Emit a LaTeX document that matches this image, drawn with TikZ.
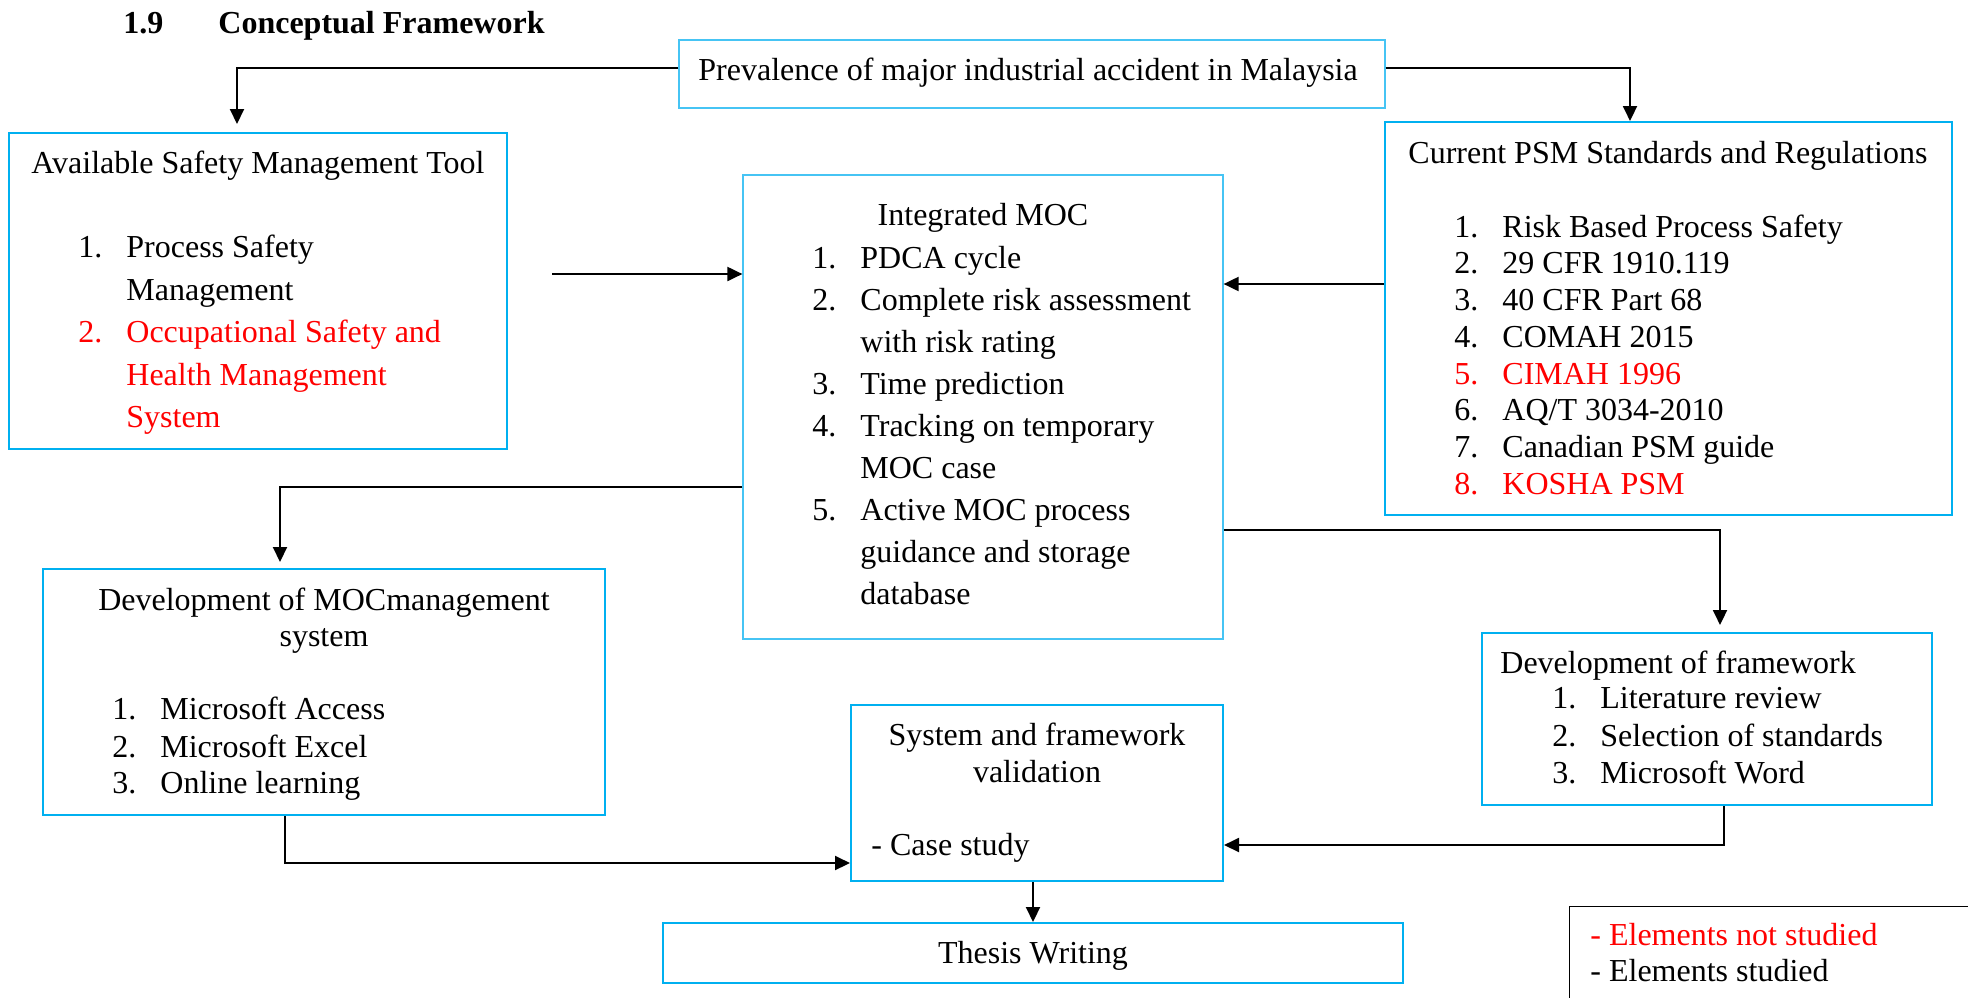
\documentclass[tikz,border=0pt]{standalone}
\usepackage{fontspec}
\setmainfont{Liberation Serif}
\usetikzlibrary{arrows.meta}
\definecolor{boxblue}{RGB}{0,176,240}
\definecolor{lightblue}{RGB}{70,196,244}
\definecolor{nsred}{RGB}{255,0,0}
\newcommand{\num}[1]{\makebox[24pt][l]{#1}}
\begin{document}
\begin{tikzpicture}[x=0.5pt,y=-0.5pt,
  font=\fontsize{16}{20}\selectfont,
  bbox/.style={draw=boxblue,line width=1pt,inner sep=0pt,rectangle},
  tbox/.style={draw=lightblue,line width=0.6pt,inner sep=0pt,rectangle},
  txt/.style={anchor=base west,inner sep=0pt},
  ctxt/.style={anchor=base,inner sep=0pt},
  red/.style={text=nsred},
  arr/.style={line width=1pt,-{Triangle[length=7.5pt,width=7pt]}}]
\useasboundingbox (0,0) rectangle (1968,997);
\clip (0,0) rectangle (1968,997);

% heading
\node[txt,font=\fontsize{16}{20}\selectfont\bfseries] (secnum) at (123,33) {1.9};
\node[txt,font=\fontsize{16}{20}\selectfont\bfseries] (sectitle) at (218,33) {Conceptual Framework};

% boxes
\node[tbox,minimum width=353pt,minimum height=34pt] (prev) at (1032,74) {};
\node[bbox,minimum width=249pt,minimum height=158pt] (avail) at (258,291) {};
\node[bbox,minimum width=283.5pt,minimum height=196.5pt] (psm) at (1668.5,318.5) {};
\node[tbox,minimum width=240pt,minimum height=232pt] (moc) at (983,407) {};
\node[bbox,minimum width=281pt,minimum height=123pt] (devmoc) at (324,692) {};
\node[bbox,minimum width=225pt,minimum height=86pt] (devfw) at (1707,719) {};
\node[bbox,minimum width=186pt,minimum height=88pt] (valid) at (1037,793) {};
\node[bbox,minimum width=370pt,minimum height=30pt] (thesis) at (1033,953) {};
\node[draw=black,line width=0.6pt,inner sep=0pt,anchor=north west,
      minimum width=230pt,minimum height=70pt] (legend) at (1569,906) {};

% prevalence
\node[txt] (prevtxt) at (698,80) {Prevalence of major industrial accident in Malaysia};

% available safety management tool
\node[ctxt] (availttl) at (258,173) {Available Safety Management Tool};
\node[txt] (avail1) at (78,257) {\num{1.}Process Safety};
\node[txt] (avail1b) at (126,300) {Management};
\node[txt,red] (avail2) at (78,342) {\num{2.}Occupational Safety and};
\node[txt,red] (avail2b) at (126,385) {Health Management};
\node[txt,red] (avail2c) at (126,427) {System};

% integrated MOC
\node[ctxt] (mocttl) at (983,225) {Integrated MOC};
\node[txt] (moc1) at (812,268) {\num{1.}PDCA cycle};
\node[txt] (moc2) at (812,310) {\num{2.}Complete risk assessment};
\node[txt] (moc2b) at (860,352) {with risk rating};
\node[txt] (moc3) at (812,394) {\num{3.}Time prediction};
\node[txt] (moc4) at (812,436) {\num{4.}Tracking on temporary};
\node[txt] (moc4b) at (860,478) {MOC case};
\node[txt] (moc5) at (812,520) {\num{5.}Active MOC process};
\node[txt] (moc5b) at (860,562) {guidance and storage};
\node[txt] (moc5c) at (860,604) {database};

% PSM standards
\node[ctxt] (psmttl) at (1668,163) {Current PSM Standards and Regulations};
\node[txt] (psm1) at (1454,237) {\num{1.}Risk Based Process Safety};
\node[txt] (psm2) at (1454,273) {\num{2.}29 CFR 1910.119};
\node[txt] (psm3) at (1454,310) {\num{3.}40 CFR Part 68};
\node[txt] (psm4) at (1454,347) {\num{4.}COMAH 2015};
\node[txt,red] (psm5) at (1454,384) {\num{5.}CIMAH 1996};
\node[txt] (psm6) at (1454,420) {\num{6.}AQ/T 3034-2010};
\node[txt] (psm7) at (1454,457) {\num{7.}Canadian PSM guide};
\node[txt,red] (psm8) at (1454,494) {\num{8.}KOSHA PSM};

% MOC management system
\node[ctxt] (devmocttl) at (324,610) {Development of MOCmanagement};
\node[ctxt] (devmocttlb) at (324,646) {system};
\node[txt] (devmoc1) at (112,719) {\num{1.}Microsoft Access};
\node[txt] (devmoc2) at (112,757) {\num{2.}Microsoft Excel};
\node[txt] (devmoc3) at (112,793) {\num{3.}Online learning};

% framework development
\node[txt] (devfwttl) at (1500,673) {Development of framework};
\node[txt] (devfw1) at (1552,708) {\num{1.}Literature review};
\node[txt] (devfw2) at (1552,746) {\num{2.}Selection of standards};
\node[txt] (devfw3) at (1552,783) {\num{3.}Microsoft Word};

% validation
\node[ctxt] (validttl) at (1037,745) {System and framework};
\node[ctxt] (validttlb) at (1037,782) {validation};
\node[txt] (validcase) at (871,855) {- Case study};

% thesis
\node[ctxt] (thesistxt) at (1033,963) {Thesis Writing};

% legend
\node[txt,red] (legnot) at (1590,945) {- Elements not studied};
\node[txt] (legyes) at (1590,981) {- Elements studied};

% connectors
\draw[arr,shorten >=4pt] ([yshift=3pt]prev.west) -| ([xshift=-10.5pt]avail.north);
\draw[arr] ([yshift=3pt]prev.east) -| ([xshift=-19.25pt]psm.north);
\coordinate (ain) at (552,274);
\draw[arr] (ain) -- (ain -| moc.west);
\coordinate (pin) at ([yshift=17.25pt]psm.west);
\draw[arr] (pin) -- (pin -| moc.east);
\draw[arr,shorten >=3pt] ([yshift=-40pt]moc.west) -| ([xshift=-22pt]devmoc.north);
\draw[arr,shorten >=3.5pt] ([yshift=-61.5pt]moc.east) -| ([xshift=6.5pt]devfw.north);
\draw[arr] ([xshift=-19.5pt]devmoc.south) |- ([yshift=-35pt]valid.west);
\draw[arr] ([xshift=8.5pt]devfw.south) |- ([yshift=-26pt]valid.east);
\draw[arr] (valid.south -| thesis.north) -- (thesis.north);
\end{tikzpicture}
\end{document}
